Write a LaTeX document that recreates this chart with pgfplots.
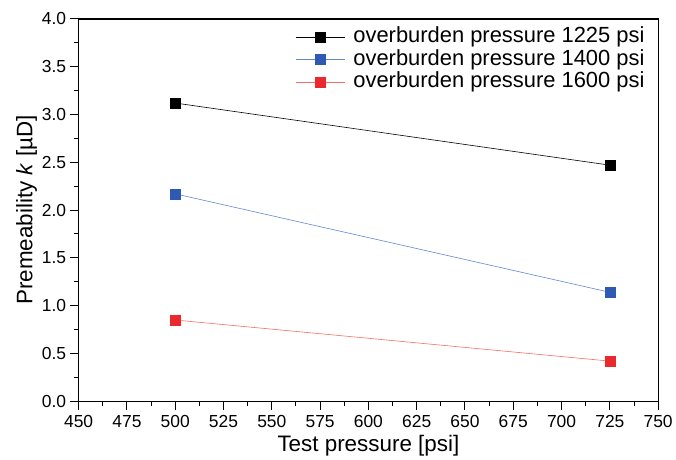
\documentclass[border=0pt]{standalone}
\usepackage{pgfplots}
\pgfplotsset{compat=1.18}
\usepackage{fontspec}
\setmainfont{Liberation Sans}
\definecolor{myblue}{RGB}{47,90,180}
\definecolor{mybluel}{RGB}{100,135,210}
\definecolor{myred}{RGB}{235,40,45}
\definecolor{myredl}{RGB}{245,110,100}
\begin{document}
\begin{tikzpicture}
\begin{axis}[
  name=ax,
  scale only axis,
  clip=false,
  width=582pt, height=384pt,
  xmin=450, xmax=750, ymin=0, ymax=4,
  xtick={450,475,...,750},
  ytick={0,0.5,...,4},
  minor x tick num=1, minor y tick num=1,
  axis x line*=bottom, axis y line*=left,
  axis line style={line width=1.3pt, -},
  tick style={line width=1pt, black},
  tick align=outside,
  major tick length=9pt, minor tick length=5pt,
  xticklabel style={/pgf/number format/fixed, /pgf/number format/precision=0, yshift=-1.5pt},
  yticklabel style={/pgf/number format/fixed, /pgf/number format/fixed zerofill, /pgf/number format/precision=1},
  /pgf/number format/assume math mode=true,
  ticklabel style={font=\fontsize{17.5}{20}\selectfont},
  xlabel={Test pressure [psi]},
  ylabel={Premeability \textit{k} [µD]},
  label style={font=\fontsize{22.5}{26}\selectfont},
  xlabel style={yshift=-1pt},
  ylabel style={yshift=-2pt},
  legend style={draw=none, fill=none, at={(0.978,0.982)}, anchor=north east,
    inner sep=0pt,
    font=\fontsize{22}{26}\selectfont, row sep=0pt, legend cell align=left,
    nodes={inner sep=0.75pt, text height=16pt, text depth=5pt}},
  legend image code/.code={
    \draw[#1, mark=none] (0pt,0pt) -- (50pt,0pt);
    \draw[#1, only marks] plot coordinates {(25pt,0pt)};
    \path (57pt,0pt);
  },
]
\addplot[black, line width=0.6pt, mark=square*, mark size=5pt, mark options={solid, fill=black, draw=black}]
  coordinates {(500,3.12) (725,2.47)};
\addlegendentry{overburden pressure 1225 psi}
\addplot[mybluel, line width=0.6pt, mark=square*, mark size=5pt, mark options={solid, fill=myblue, draw=myblue}]
  coordinates {(500,2.17) (725,1.14)};
\addlegendentry{overburden pressure 1400 psi}
\addplot[myredl, line width=0.6pt, mark=square*, mark size=5pt, mark options={solid, fill=myred, draw=myred}]
  coordinates {(500,0.85) (725,0.42)};
\addlegendentry{overburden pressure 1600 psi}
\draw[line width=1.3pt] (rel axis cs:0,1) -- (rel axis cs:1,1) -- (rel axis cs:1,0);
\end{axis}
\path ([shift={(-79pt,-58pt)}]ax.south west) rectangle ([shift={(15pt,19pt)}]ax.north east);
\end{tikzpicture}
\end{document}
